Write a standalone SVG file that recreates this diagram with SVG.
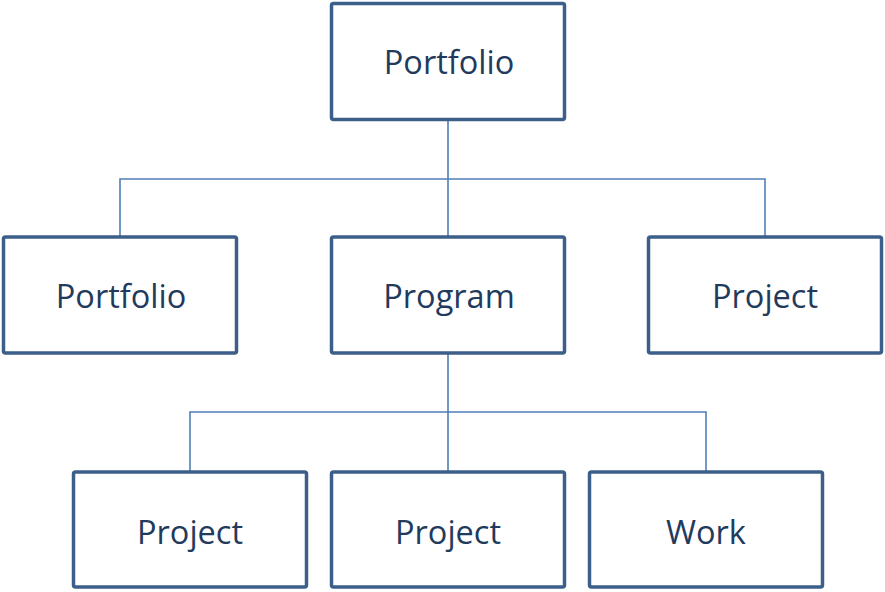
<svg xmlns="http://www.w3.org/2000/svg" width="885" height="592" viewBox="0 0 885 592">
<style>
.box{fill:#ffffff;stroke:#3c5f8a;stroke-width:3.5}
.lbl{font-family:"Open Sans","Noto Sans",sans-serif;font-size:32.5px;font-weight:500;fill:#223a5c;text-anchor:middle}
.con{fill:none;stroke:#4f7fb8;stroke-width:1.6}
</style>
<rect width="885" height="592" fill="#ffffff"/>
<g id="connectors">
<path class="con" d="M448 120V237M120 237V179H765V237"/>
<path class="con" d="M448 353V472M190 472V412H706V472"/>
</g>
<g id="n-portfolio-top"><rect class="box" x="331.5" y="3.5" width="233" height="116" rx="2"/><text class="lbl" x="449" y="74">Portfolio</text></g>
<g id="n-portfolio"><rect class="box" x="3.5" y="237" width="233" height="116" rx="2"/><text class="lbl" x="121" y="308">Portfolio</text></g>
<g id="n-program"><rect class="box" x="331.5" y="237" width="233" height="116" rx="2"/><text class="lbl" x="449" y="308">Program</text></g>
<g id="n-project-r"><rect class="box" x="648.5" y="237" width="233" height="116" rx="2"/><text class="lbl" x="765" y="308">Project</text></g>
<g id="n-project-1"><rect class="box" x="73.5" y="472" width="233" height="115" rx="2"/><text class="lbl" x="190" y="544">Project</text></g>
<g id="n-project-2"><rect class="box" x="331.5" y="472" width="233" height="115" rx="2"/><text class="lbl" x="448" y="544">Project</text></g>
<g id="n-work"><rect class="box" x="589.5" y="472" width="233" height="115" rx="2"/><text class="lbl" x="706" y="544">Work</text></g>
</svg>
